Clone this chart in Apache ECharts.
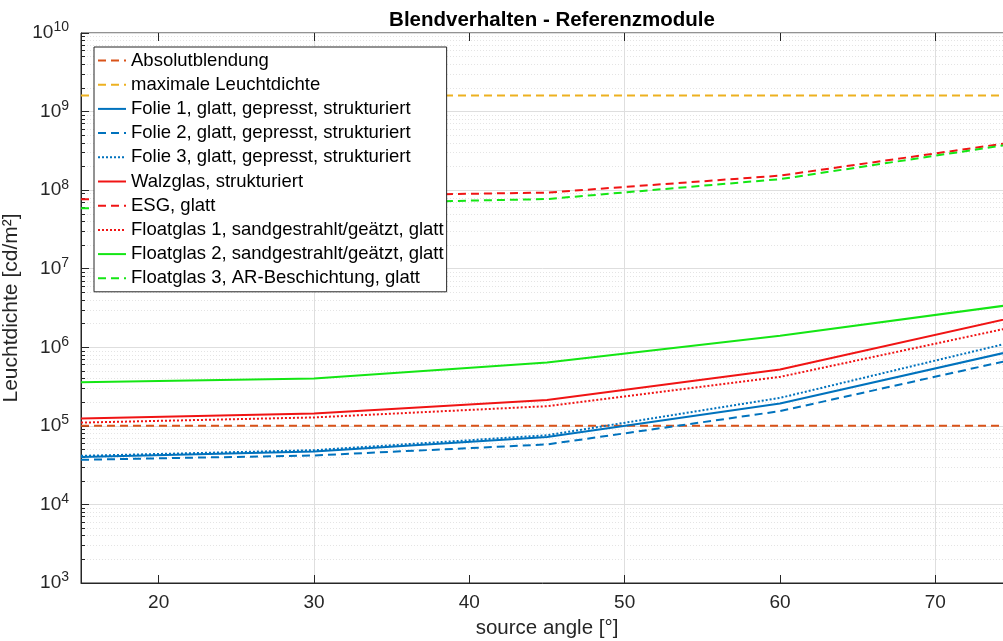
<!DOCTYPE html>
<html>
<head>
<meta charset="utf-8">
<script src="https://cdn.jsdelivr.net/npm/echarts@6/dist/echarts.min.js"></script>
<style>
  html, body { margin: 0; padding: 0; background: #fff; }
  #chart { width: 1003px; height: 641px; }
</style>
</head>
<body>
<div id="chart"></div>
<script>
// source angle [°]
const angles = [15, 30, 45, 60, 75]
const xTickValues = [20, 30, 40, 50, 60, 70]
const absolutblendung = [1e5, 1e5, 1e5, 1e5, 1e5]
const maxLeuchtdichte = [1.6e9, 1.6e9, 1.6e9, 1.6e9, 1.6e9]
const folie1 = [4.0e4, 4.7e4, 7.2e4, 1.93e5, 9.0e5]
const folie2 = [3.7e4, 4.2e4, 5.8e4, 1.54e5, 7.0e5]
const folie3 = [4.15e4, 4.9e4, 7.6e4, 2.27e5, 1.17e6]
const walzglas = [1.24e5, 1.44e5, 2.14e5, 5.2e5, 2.39e6]
const esg = [7.65e7, 8.4e7, 9.3e7, 1.53e8, 4.06e8]
const floatglas1 = [1.1e5, 1.28e5, 1.78e5, 4.2e5, 1.81e6]
const floatglas2 = [3.6e5, 4.0e5, 6.4e5, 1.4e6, 3.5e6]
const floatglas3 = [5.87e7, 6.7e7, 7.7e7, 1.38e8, 3.87e8]

const FONT = '"Liberation Sans", Arial, sans-serif'
const blue = '#0072BD'
const red = '#f01414'
const green = '#14e614'
const DASH = [8, 5]
const DOT = [2, 2]

function pairs(ys) {
  return angles.map((x, i) => [x, ys[i]])
}

function line(name, ys, color, type) {
  return {
    name: name,
    type: 'line',
    data: pairs(ys),
    symbol: 'none',
    silent: true,
    lineStyle: { color: color, width: 2, type: type },
    itemStyle: { color: color },
    animation: false
  }
}

const chart = echarts.init(document.getElementById('chart'))
chart.setOption({
  backgroundColor: '#fff',
  title: {
    text: 'Blendverhalten - Referenzmodule',
    left: 547,
    textAlign: 'center',
    top: 5,
    textStyle: { fontFamily: FONT, fontSize: 20.5, fontWeight: 'bold', color: '#000' }
  },
  grid: {
    left: 81,
    top: 33,
    width: 932,
    height: 550,
    containLabel: false,
    outerBoundsMode: 'none',
    show: true,
    borderColor: '#262626',
    borderWidth: 1,
    backgroundColor: '#fff'
  },
  legend: {
    orient: 'vertical',
    left: 94,
    top: 47,
    padding: [3, 3, 3, 3],
    itemGap: 3.2,
    itemWidth: 28,
    itemHeight: 12,
    itemStyle: { opacity: 0 },
    backgroundColor: '#fff',
    borderColor: '#262626',
    borderWidth: 1,
    borderRadius: 0,
    textStyle: { fontFamily: FONT, fontSize: 18.5, color: '#000', lineHeight: 21 },
    selectedMode: false
  },
  xAxis: [{
    type: 'value',
    min: 15,
    max: 75,
    interval: 5,
    name: 'source angle [°]',
    nameLocation: 'middle',
    nameGap: 35,
    nameTextStyle: { fontFamily: FONT, fontSize: 20.5, color: '#262626' },
    axisLine: { onZero: false, lineStyle: { color: '#262626' } },
    axisTick: { inside: true, length: 8, customValues: xTickValues, lineStyle: { color: '#262626' } },
    axisLabel: {
      fontFamily: FONT, fontSize: 19, color: '#262626', margin: 10,
      customValues: xTickValues
    },
    splitLine: { show: true, lineStyle: { color: ['rgba(0,0,0,0)', '#dedede'], width: 1 } }
  }, {
    type: 'value',
    position: 'top',
    min: 15,
    max: 75,
    interval: 5,
    axisLine: { show: false },
    axisTick: { inside: true, length: 8, customValues: xTickValues, lineStyle: { color: '#262626' } },
    axisLabel: { show: false },
    splitLine: { show: false }
  }],
  yAxis: {
    type: 'log',
    logBase: 10,
    min: 1e3,
    max: 1e10,
    name: 'Leuchtdichte [cd/m²]',
    nameLocation: 'middle',
    nameGap: 47,
    nameTextStyle: { fontFamily: FONT, fontSize: 21, color: '#262626' },
    axisLine: { show: true, lineStyle: { color: '#262626' } },
    axisTick: { show: true, inside: true, length: 8, lineStyle: { color: '#262626' } },
    minorTick: { show: true, splitNumber: 9, length: 4, lineStyle: { color: '#262626' } },
    minorSplitLine: { show: true, lineStyle: { color: '#e4e4e4', type: [1, 2], width: 1 } },
    splitLine: { show: true, lineStyle: { color: '#dedede', width: 1 } },
    axisLabel: {
      margin: 12,
      formatter: v => '{b|10}{s|' + Math.round(Math.log10(v)) + '}',
      rich: {
        b: { fontFamily: FONT, fontSize: 19, color: '#262626' },
        s: { fontFamily: FONT, fontSize: 14, color: '#262626', padding: [0, 0, 11, 0] }
      }
    }
  },
  series: [
    line('Absolutblendung', absolutblendung, '#D95319', DASH),
    line('maximale Leuchtdichte', maxLeuchtdichte, '#EDB120', DASH),
    line('Folie 1, glatt, gepresst, strukturiert', folie1, blue, 'solid'),
    line('Folie 2, glatt, gepresst, strukturiert', folie2, blue, DASH),
    line('Folie 3, glatt, gepresst, strukturiert', folie3, blue, DOT),
    line('Walzglas, strukturiert', walzglas, red, 'solid'),
    line('ESG, glatt', esg, red, DASH),
    line('Floatglas 1, sandgestrahlt/geätzt, glatt', floatglas1, red, DOT),
    line('Floatglas 2, sandgestrahlt/geätzt, glatt', floatglas2, green, 'solid'),
    line('Floatglas 3, AR-Beschichtung, glatt', floatglas3, green, DASH)
  ]
})
</script>
</body>
</html>
